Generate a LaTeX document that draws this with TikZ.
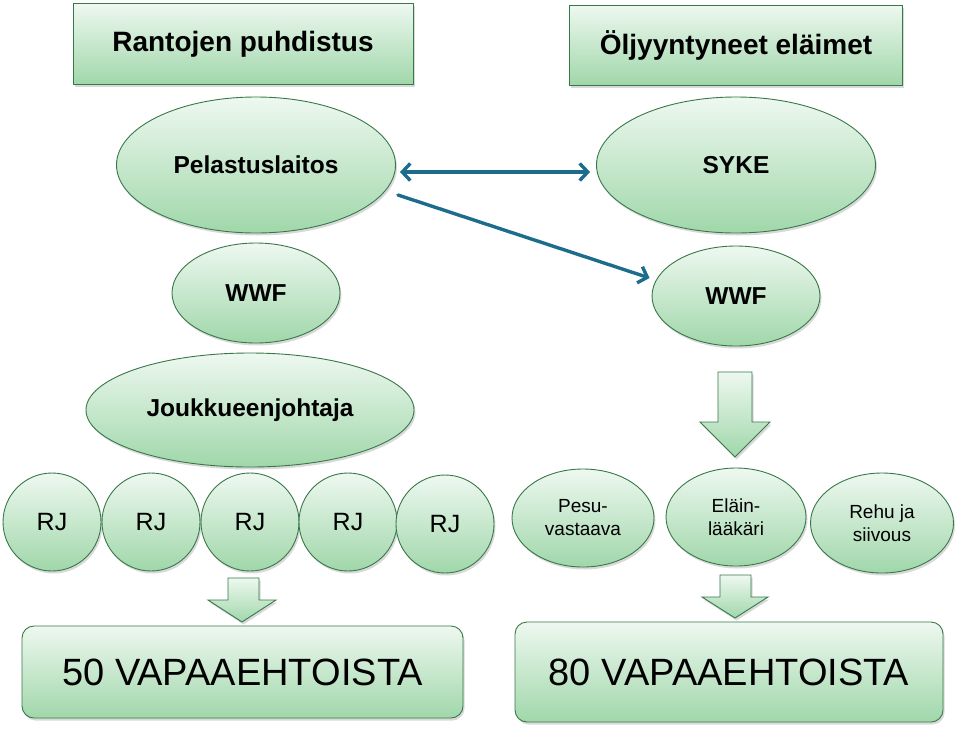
\documentclass[tikz,border=0pt]{standalone}
\usepackage{fontspec}
\setmainfont{Liberation Sans}
\usetikzlibrary{shapes.geometric,shadows,arrows.meta}
\definecolor{gtop}{RGB}{238,248,240}
\definecolor{gbot}{RGB}{160,215,170}
\definecolor{gline}{RGB}{56,120,72}
\definecolor{arrowblue}{RGB}{28,108,140}
\begin{document}
\begin{tikzpicture}[x=1pt,y=-1pt,
  box/.style={draw=gline, line width=0.9pt, top color=gtop, bottom color=gbot,
    drop shadow={shadow xshift=1.5pt,shadow yshift=-2.5pt,opacity=0.3}},
  ell/.style={box, ellipse, inner sep=0pt, align=center},
  hdr/.style={box, rectangle, inner sep=0pt, font=\fontsize{28}{31}\selectfont\bfseries},
  bold/.style={font=\fontsize{24.5}{27}\selectfont\bfseries},
  reg/.style={font=\fontsize{25}{28}\selectfont},
  small/.style={font=\fontsize{19}{23}\selectfont},
  big/.style={box, rectangle, rounded corners=12pt, inner sep=0pt, font=\fontsize{38}{41}\selectfont},
  link/.style={draw=arrowblue, line width=3.4pt, line cap=round},
]
\useasboundingbox (0,0) rectangle (960,731);

% headers
\node[hdr, minimum width=340pt, minimum height=81pt] (h1) at (243,44) {Rantojen puhdistus};
\node[hdr, minimum width=333pt, minimum height=80pt] (h2) at (736,45) {Öljyyntyneet eläimet};

% ellipses
\node[ell, bold, minimum width=279pt, minimum height=136pt] (pel) at (256,165) {Pelastuslaitos};
\node[ell, bold, minimum width=279pt, minimum height=136pt] (syke) at (736,165) {SYKE};
\node[ell, bold, minimum width=168pt, minimum height=100pt] (wwfl) at (256,293) {WWF};
\node[ell, bold, minimum width=168pt, minimum height=100pt] (wwfr) at (736,296) {WWF};
\node[ell, bold, minimum width=328pt, minimum height=114pt] (jj) at (250,410) {Joukkueenjohtaja};

% RJ circles
\node[ell, reg, minimum width=98pt, minimum height=98pt] (rj1) at (52,522) {RJ};
\node[ell, reg, minimum width=98pt, minimum height=98pt] (rj2) at (151,522) {RJ};
\node[ell, reg, minimum width=98pt, minimum height=98pt] (rj3) at (250,522) {RJ};
\node[ell, reg, minimum width=98pt, minimum height=98pt] (rj4) at (348,522) {RJ};
\node[ell, reg, minimum width=98pt, minimum height=98pt] (rj5) at (445,524) {RJ};

% right row
\node[ell, small, minimum width=142pt, minimum height=98pt] (pesu) at (583,518) {Pesu-\\vastaava};
\node[ell, small, minimum width=140pt, minimum height=98pt] (elain) at (736,517) {Eläin-\\lääkäri};
\node[ell, small, minimum width=143pt, minimum height=100pt] (rehu) at (882,523) {Rehu ja\\siivous};

% block arrows
\path[box] (718,372) -- (752,372) -- (752,422) -- (770,422) -- (735,457) -- (700,422) -- (718,422) -- cycle;
\path[box] (228,578) -- (259,578) -- (259,600) -- (276,600) -- (242,622) -- (208,600) -- (228,600) -- cycle;
\path[box] (720,575) -- (751,575) -- (751,597) -- (768,597) -- (735,618) -- (702,597) -- (720,597) -- cycle;

% bottom boxes
\node[big, minimum width=441pt, minimum height=92pt] (v50) at (242.5,672) {50 VAPAAEHTOISTA};
\node[big, minimum width=428pt, minimum height=100pt] (v80) at (729,672) {80 VAPAAEHTOISTA};

% connectors
\draw[link, {Straight Barb[length=8pt,width=17pt]}-{Straight Barb[length=8pt,width=17pt]}]
  ([xshift=4pt,yshift=-7pt]pel.east) -- ([xshift=-6pt,yshift=-7pt]syke.west);
\draw[link, -{Straight Barb[length=8pt,width=17pt]}]
  ([xshift=2pt,yshift=-30pt]pel.east) -- ([xshift=-2pt,yshift=18pt]wwfr.west);
\end{tikzpicture}
\end{document}
